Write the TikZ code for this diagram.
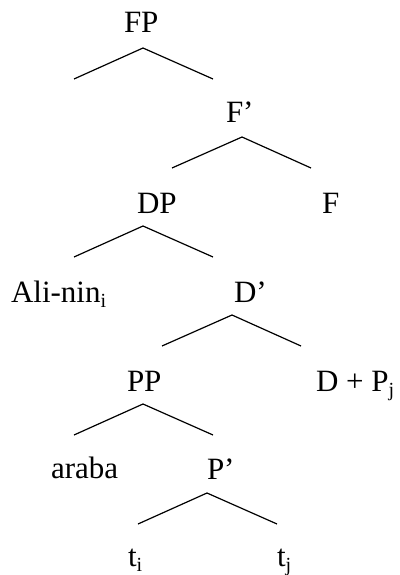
\documentclass[tikz,border=0pt]{standalone}
\usepackage{fontspec}
\setmainfont{Liberation Serif}
\newcommand{\lsub}[1]{\raisebox{-5pt}{\fontsize{20}{22}\selectfont #1}}
\begin{document}
\begin{tikzpicture}[x=1pt,y=-1pt,
  lbl/.style={anchor=base west,inner sep=0pt,outer sep=0pt,font=\fontsize{31}{36}\selectfont},
  branch/.style={line width=1.2pt,line join=miter}]
\useasboundingbox (0,0) rectangle (399,575);
% labels
\node[lbl] (FP)   at (124,33)  {FP};
\node[lbl] (Fbar) at (226,123) {F’};
\node[lbl] (DP)   at (137,213) {DP};
\node[lbl] (F)    at (322,213) {F};
\node[lbl] (Ali)  at (11,302)  {Ali-nin\lsub{i}};
\node[lbl] (Dbar) at (234,302) {D’};
\node[lbl] (PP)   at (127,391) {PP};
\node[lbl] (DPj)  at (316,391) {D + P\lsub{j}};
\node[lbl] (araba) at (51,478) {araba};
\node[lbl] (Pbar) at (207,479) {P’};
\node[lbl] (ti)   at (128,566) {t\lsub{i}};
\node[lbl] (tj)   at (277,566) {t\lsub{j}};
% branch points
\coordinate (fpA) at (143,48);  \coordinate (fpL) at (74,79);   \coordinate (fpR) at (213,79);
\coordinate (fbA) at (242,137); \coordinate (fbL) at (172,168); \coordinate (fbR) at (311,168);
\coordinate (dpA) at (143,226); \coordinate (dpL) at (74,257);  \coordinate (dpR) at (213,257);
\coordinate (dbA) at (232,315); \coordinate (dbL) at (162,346); \coordinate (dbR) at (301,346);
\coordinate (ppA) at (143,404); \coordinate (ppL) at (74,435);  \coordinate (ppR) at (213,435);
\coordinate (pbA) at (207,493); \coordinate (pbL) at (138,524); \coordinate (pbR) at (277,524);
\draw[branch] (fpL) -- (fpA) -- (fpR);
\draw[branch] (fbL) -- (fbA) -- (fbR);
\draw[branch] (dpL) -- (dpA) -- (dpR);
\draw[branch] (dbL) -- (dbA) -- (dbR);
\draw[branch] (ppL) -- (ppA) -- (ppR);
\draw[branch] (pbL) -- (pbA) -- (pbR);
\end{tikzpicture}
\end{document}
